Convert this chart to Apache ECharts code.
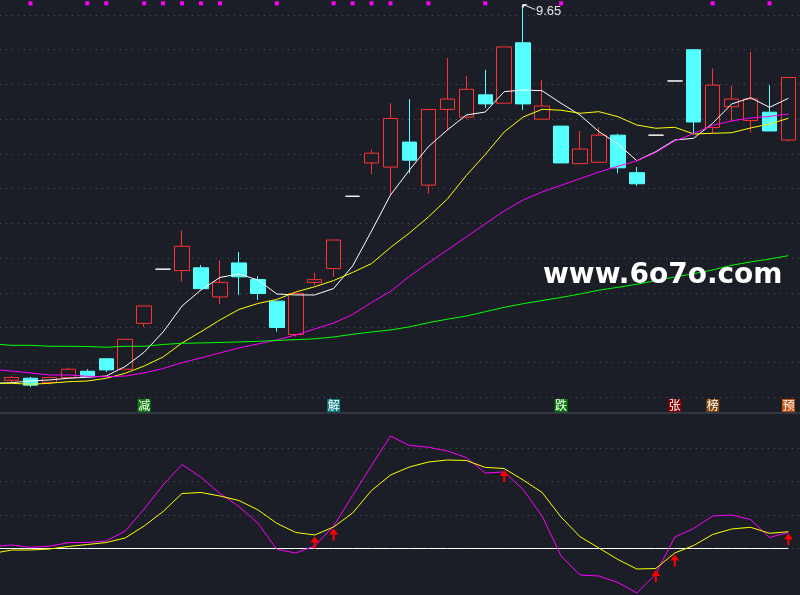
<!DOCTYPE html>
<html>
<head>
<meta charset="utf-8">
<script src="https://cdn.jsdelivr.net/npm/echarts@6/dist/echarts.min.js"></script>
<style>
html,body{margin:0;padding:0;background:#1b1e27;}
#c{width:800px;height:595px;}
</style>
</head>
<body>
<div id="c"></div>
<script>
// ---------- DATA ----------
// day index: -1 is a lead-in day (moving averages / indicator only), 0..41 are the visible candles
const dayIndex = [-1,0,1,2,3,4,5,6,7,8,9,10,11,12,13,14,15,16,17,18,19,20,
  21,22,23,24,25,26,27,28,29,30,31,32,33,34,35,36,37,38,39,40,41];

// candles (42 trading days, day 0..41)
const opens  = [4.24,4.27,4.21,4.28,4.37,4.55,4.40,5.06,5.84,5.82,5.86,5.44,5.93,5.69,5.38,4.90,5.65,5.85,6.89,7.37,7.31,7.67,7.05,8.14,8.03,8.35,8.23,9.10,8.00,7.90,7.36,7.38,7.77,7.23,7.77,8.55,9.00,7.88,8.18,7.98,8.10,7.70];
const closes = [4.28,4.17,4.28,4.40,4.30,4.39,4.83,5.31,5.84,6.17,5.56,5.65,5.73,5.49,5.00,5.49,5.69,6.26,6.89,7.51,8.01,7.41,8.14,8.29,8.43,8.22,9.04,8.22,8.19,7.37,7.57,7.77,7.30,7.07,7.77,8.55,7.96,8.49,8.29,8.29,7.83,8.60];
const lows   = [4.20,4.14,4.18,4.27,4.29,4.36,4.40,5.01,5.84,5.66,5.55,5.34,5.47,5.40,4.94,4.87,5.61,5.73,6.89,7.21,6.91,7.22,6.93,7.84,8.00,8.16,8.23,8.13,8.00,7.37,7.36,7.37,7.22,7.04,7.77,8.55,7.80,7.80,7.96,7.81,7.83,7.68];
const highs  = [4.30,4.29,4.29,4.42,4.40,4.56,4.83,5.31,5.84,6.40,5.90,5.97,6.09,5.74,5.38,5.49,5.79,6.26,6.89,7.56,8.23,8.29,8.14,8.88,8.62,8.71,9.04,9.65,8.56,7.90,7.83,7.88,7.79,7.31,7.77,8.55,9.01,8.73,8.48,8.97,8.49,8.60];

// moving averages (43 values, lead-in day first)
const ma5  = [4.194,4.206,4.230,4.245,4.269,4.284,4.302,4.439,4.644,4.936,5.310,5.541,5.721,5.771,5.685,5.483,5.469,5.469,5.562,5.886,6.390,6.908,7.268,7.604,7.844,8.060,8.103,8.396,8.420,8.410,8.229,8.060,7.820,7.643,7.402,7.532,7.700,7.725,7.941,8.219,8.309,8.171,8.301];
const ma10 = [4.197,4.197,4.183,4.197,4.220,4.230,4.269,4.341,4.446,4.576,4.778,4.940,5.109,5.260,5.346,5.404,5.512,5.587,5.677,5.793,5.921,6.153,6.361,6.592,6.851,7.189,7.492,7.816,8.031,8.142,8.129,8.085,8.108,8.036,7.916,7.869,7.883,7.787,7.797,7.805,7.873,7.931,8.013];
const ma20 = [4.396,4.374,4.346,4.317,4.317,4.298,4.292,4.302,4.346,4.410,4.494,4.562,4.634,4.706,4.763,4.821,4.893,4.979,5.065,5.188,5.361,5.519,5.738,5.929,6.117,6.304,6.494,6.678,6.836,6.952,7.048,7.143,7.240,7.322,7.401,7.520,7.686,7.794,7.912,7.975,8.017,8.039,8.075];
const ma60 = [4.763,4.744,4.744,4.730,4.730,4.727,4.716,4.730,4.730,4.756,4.773,4.778,4.785,4.792,4.802,4.814,4.825,4.838,4.864,4.903,4.936,4.965,5.009,5.070,5.120,5.165,5.228,5.290,5.343,5.389,5.433,5.483,5.538,5.579,5.623,5.675,5.728,5.775,5.829,5.896,5.944,5.987,6.034];

// lower indicator (43 values, lead-in day first)
const indK = [0.60,1.04,0.36,0.69,1.73,1.82,2.24,5.22,11.79,18.96,25.07,21.25,16.42,12.54,7.61,-0.24,-1.34,0.75,6.72,15.82,24.78,33.58,30.75,30.24,29.10,27.16,22.54,22.84,17.61,9.70,-2.24,-7.91,-8.21,-10.15,-13.28,-7.61,3.43,5.97,9.70,10.00,8.66,3.28,4.78];
const indD = [-1.49,-0.45,-0.45,-0.15,0.60,1.19,1.79,3.13,6.72,11.04,16.42,16.72,15.67,14.33,11.55,7.52,4.78,4.03,6.42,10.60,17.31,21.94,24.33,25.82,26.42,26.27,24.21,23.88,20.45,16.72,9.40,3.52,0.15,-3.28,-6.12,-5.97,-1.34,0.90,4.18,5.82,6.33,4.54,5.01];
const zeroLine = [0,0,0,0,0,0,0,0,0,0,0,0,0,0,0,0,0,0,0,0,0,0,0,0,0,0,0,0,0,0,0,0,0,0,0,0,0,0,0,0,0,0,0];

// signals (day 0..41)
const topDotIdx = [1,4,5,7,8,9,10,11,14,17,18,19,20,22,25,29,37,40];
const tagIdx    = [7,17,29,35,37,41];
const tagText   = ['减','解','跌','张','榜','预'];
const arrowIdx  = [16,17,26,34,35,41];

// ---------- STYLE ----------
const BG = '#1b1e27';
const RED = '#ff3232';
const CYAN = '#54ffff';
const DOJI = '#ffffff';
const GRIDLINE = '#4d515d';
const tagColors = {'减':'#0a7d0a','解':'#0a8080','跌':'#0a7d0a','张':'#820000','榜':'#7f4205','预':'#c2520e'};
const TOP_ROW = 9.668;   // level of the signal dot row
const TAG_ROW = 3.878;   // level of the tag row
// visible day range on the x axis (left/right edges of the plot)
const X_MIN = -0.6069, X_MAX = 41.6095;

const candleData = opens.map((o, i) => {
  const v = [i, o, closes[i], lows[i], highs[i]];
  if (o === closes[i]) {
    return {value: v, itemStyle: {color: DOJI, color0: DOJI, borderColor: DOJI, borderColor0: DOJI}};
  }
  return v;
});
const pairs = arr => arr.map((v, k) => [dayIndex[k], v]);

let maxI = 0;
highs.forEach((h, i) => { if (h > highs[maxI]) maxI = i; });

const splitLineStyle = {color: GRIDLINE, type: [1, 5], width: 1};

const chart = echarts.init(document.getElementById('c'));

const option = {
  backgroundColor: BG,
  animation: false,
  grid: [
    {left: 0, right: 0, top: 0, height: 431.7, outerBoundsMode: 'none'},
    {left: 0, right: 0, top: 414.5, height: 134, outerBoundsMode: 'none'}
  ],
  xAxis: [
    {type: 'value', gridIndex: 0, min: X_MIN, max: X_MAX, show: false, splitLine: {show: false}},
    {type: 'value', gridIndex: 1, min: X_MIN, max: X_MAX, position: 'top', offset: 1.5,
     axisLine: {show: true, onZero: false, lineStyle: {color: '#3d414c', width: 1.5}},
     axisTick: {show: false}, axisLabel: {show: false}, splitLine: {show: false}}
  ],
  yAxis: [
    {type: 'value', gridIndex: 0, min: 3.5, max: 9.716, interval: 0.5,
     axisLine: {show: false}, axisTick: {show: false}, axisLabel: {show: false},
     splitLine: {show: true, showMinLine: false, showMaxLine: false, lineStyle: splitLineStyle}},
    {type: 'value', gridIndex: 1, min: 0, max: 40, interval: 10,
     axisLine: {show: false}, axisTick: {show: false}, axisLabel: {show: false},
     splitLine: {show: true, showMinLine: true, showMaxLine: false, lineStyle: splitLineStyle}}
  ],
  graphic: [
    {type: 'text', x: 543, y: 276, z: 100,
     style: {text: 'www.6o7o.com', fill: '#ffffff', font: 'bold 28px "DejaVu Sans"', align: 'left', verticalAlign: 'middle'}}
  ],
  series: [
    {
      type: 'candlestick', xAxisIndex: 0, yAxisIndex: 0, barWidth: 15, z: 2,
      encode: {x: 0, y: [1, 2, 3, 4]},
      itemStyle: {color: BG, color0: CYAN, borderColor: RED, borderColor0: CYAN, borderColorDoji: DOJI, borderWidth: 1},
      data: candleData,
      markPoint: {
        symbol: 'path://M0,0 L12,5 M0,0 L4,0 M0,0 L0,3',
        symbolSize: [12, 5],
        symbolOffset: [6, 2.5],
        itemStyle: {color: 'none', borderColor: '#ffffff', borderWidth: 1},
        label: {show: true, position: 'right', distance: 0, offset: [-3, 4.5],
                color: '#e6e6e6', fontSize: 13, fontFamily: 'Liberation Sans',
                formatter: p => Number(p.value).toFixed(2)},
        data: [{coord: [maxI, highs[maxI]], value: highs[maxI]}]
      }
    },
    {type: 'line', name: 'MA5', data: pairs(ma5), xAxisIndex: 0, yAxisIndex: 0, symbol: 'none', z: 3,
     lineStyle: {color: '#ffffff', width: 1}},
    {type: 'line', name: 'MA10', data: pairs(ma10), xAxisIndex: 0, yAxisIndex: 0, symbol: 'none', z: 3,
     lineStyle: {color: '#ffff00', width: 1}},
    {type: 'line', name: 'MA20', data: pairs(ma20), xAxisIndex: 0, yAxisIndex: 0, symbol: 'none', z: 3,
     lineStyle: {color: '#ff00ff', width: 1}},
    {type: 'line', name: 'MA60', data: pairs(ma60), xAxisIndex: 0, yAxisIndex: 0, symbol: 'none', z: 3,
     lineStyle: {color: '#00ff00', width: 1}},
    {type: 'scatter', xAxisIndex: 0, yAxisIndex: 0, symbol: 'rect', symbolSize: 4, z: 4,
     itemStyle: {color: '#ff00ff', opacity: 1},
     data: topDotIdx.map(i => [i, TOP_ROW])},
    {type: 'scatter', xAxisIndex: 0, yAxisIndex: 0, symbol: 'rect', symbolSize: 13, z: 4,
     itemStyle: {opacity: 1},
     label: {show: true, position: 'inside', color: '#ffffff', fontSize: 12, fontFamily: 'Noto Sans CJK SC',
             formatter: p => p.data.name},
     data: tagIdx.map((i, j) => ({name: tagText[j], value: [i, TAG_ROW],
                                   itemStyle: {color: tagColors[tagText[j]], opacity: 1}}))},
    {type: 'line', name: 'zero', data: pairs(zeroLine), xAxisIndex: 1, yAxisIndex: 1, symbol: 'none', z: 3, clip: false,
     lineStyle: {color: '#ffffff', width: 1}},
    {type: 'line', name: 'K', data: pairs(indK), xAxisIndex: 1, yAxisIndex: 1, symbol: 'none', z: 4, clip: false,
     lineStyle: {color: '#ff00ff', width: 1}},
    {type: 'line', name: 'D', data: pairs(indD), xAxisIndex: 1, yAxisIndex: 1, symbol: 'none', z: 4, clip: false,
     lineStyle: {color: '#ffff00', width: 1}},
    {type: 'scatter', xAxisIndex: 1, yAxisIndex: 1, clip: false, z: 6,
     symbol: 'path://M4.5,0 L9,6 L5.5,6 L5.5,12 L3.5,12 L3.5,6 L0,6 Z',
     symbolSize: [9, 12], symbolOffset: [0, 7.5],
     itemStyle: {color: '#ff0000', opacity: 1},
     data: arrowIdx.map(i => [i, indD[i + 1]])}
  ]
};
chart.setOption(option);
</script>
</body>
</html>
